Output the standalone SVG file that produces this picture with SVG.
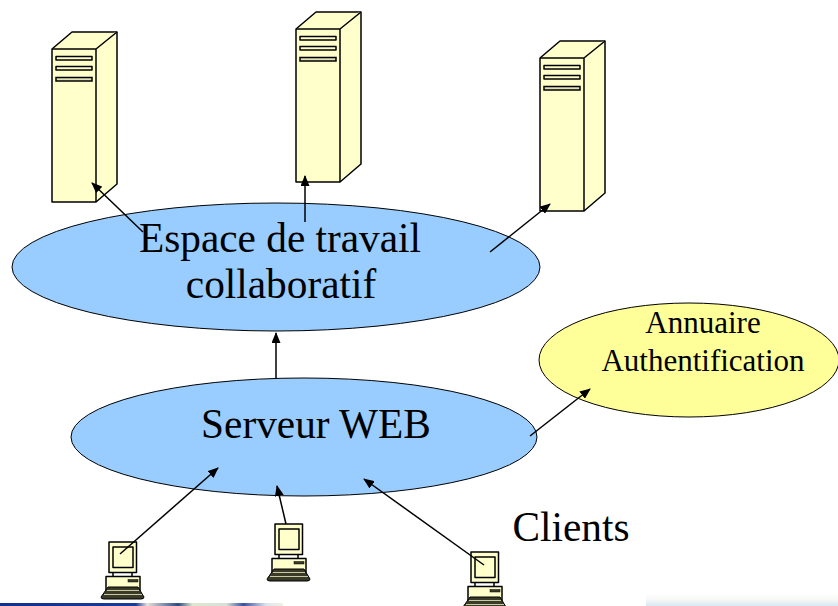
<svg xmlns="http://www.w3.org/2000/svg" width="838" height="606" viewBox="0 0 838 606">
<style>
.s{fill:#ffffcc;stroke:#000;stroke-width:1.5;stroke-linejoin:round}
.d{fill:#3a3a28;stroke:#000;stroke-width:1}
.e{stroke:#000;stroke-width:1}
.t{font-family:"Liberation Serif","Times New Roman",serif;fill:#000;text-anchor:middle}
.l{font-size:41.300px}
.m{font-size:31px}
.c{fill:none;stroke:#000;stroke-width:1.500;marker-end:url(#a)}
</style>
<defs>
<marker id="a" markerWidth="11" markerHeight="9" refX="10" refY="4.500" orient="auto" markerUnits="userSpaceOnUse"><path d="M0 0L11 4.500L0 9Z" fill="#000"/></marker>
<linearGradient id="g1" x1="0" x2="1" y1="0" y2="0">
<stop offset="0" stop-color="#12308f"/><stop offset=".48" stop-color="#1c3a98"/><stop offset=".52" stop-color="#e8e0dc"/><stop offset=".63" stop-color="#2d4a80"/><stop offset=".68" stop-color="#dfe8d0"/><stop offset=".8" stop-color="#d8e0d8"/><stop offset=".86" stop-color="#3a4f9f"/><stop offset=".94" stop-color="#dfe3ee"/><stop offset="1" stop-color="#f2f0e2"/>
</linearGradient>
<linearGradient id="g2" x1="0" x2="0" y1="0" y2="1">
<stop offset="0" stop-color="#ffffff"/><stop offset=".5" stop-color="#f8f8f6"/><stop offset="1" stop-color="#d8e8f2"/>
</linearGradient>
<g id="srv">
<path class="s" d="M0 17L20 0H65V152L44 170H0Z"/>
<path class="s" fill="none" d="M0 17H44L65 0M44 17V170"/>
<rect x="4" y="24.500" width="36" height="3.500" class="s" stroke-width="1"/>
<rect x="4" y="34.500" width="36" height="3.500" class="s" stroke-width="1"/>
<rect x="4" y="45.500" width="36" height="3.500" fill="#e0e0b8" stroke="#000" stroke-width="1.500"/>
</g>
<g id="pc">
<rect class="s" x="0" y="0" width="27.500" height="30.500"/>
<rect class="s" x="4" y="5" width="20" height="20.500"/>
<path class="s" d="M4 30.500V35M23 30.500V35"/>
<rect class="s" x="-3" y="34.500" width="34" height="14"/>
<rect x="19" y="37.500" width="10" height="2.500" fill="#3a3a28" stroke="#000" stroke-width=".5"/>
<path class="d" d="M-1 45H29L35 55Q35 57 32 57H-5Q-8 57 -8 55Z"/>
<path d="M-2 48.500H30M-5 52.500H33" stroke="#c9c9a0" stroke-width="1" fill="none"/>
</g>
</defs>
<rect id="strip-left" x="0" y="603" width="283" height="3" fill="url(#g1)"/>
<rect id="strip-right" x="646" y="593" width="192" height="13" fill="url(#g2)"/>
<g id="server1"><use href="#srv" x="52" y="32"/></g>
<g id="server2"><use href="#srv" x="296" y="12"/></g>
<g id="server3"><use href="#srv" x="540" y="41"/></g>
<g id="espace">
<ellipse cx="276" cy="267" rx="264" ry="64" fill="#99ccff" class="e"/>
<text class="t l" x="280" y="252">Espace de travail</text>
<text class="t l" x="281" y="298">collaboratif</text>
</g>
<g id="serveur">
<ellipse cx="304" cy="437" rx="233" ry="59" fill="#99ccff" class="e"/>
<text class="t l" x="316" y="438">Serveur WEB</text>
</g>
<g id="annuaire">
<ellipse cx="689" cy="360" rx="150" ry="57" fill="#ffff99" class="e"/>
<text class="t m" x="703" y="333">Annuaire</text>
<text class="t m" x="703" y="371">Authentification</text>
</g>
<g id="client1"><use href="#pc" x="109" y="542"/></g>
<g id="client2"><use href="#pc" x="275" y="524"/></g>
<g id="client3"><use href="#pc" x="471" y="552"/></g>
<g id="clients-label"><text class="t l" x="571" y="541">Clients</text></g>
<g id="connectors">
<path class="c" d="M143 232L92 183"/>
<path class="c" d="M305 222V176"/>
<path class="c" d="M490 252L550 204"/>
<path class="c" d="M276 378V333"/>
<path class="c" d="M530 436L590 389"/>
<path class="c" d="M120 554L218 468"/>
<path class="c" d="M286 524L277 486"/>
<path class="c" d="M484 565L364 479"/>
</g>
</svg>
